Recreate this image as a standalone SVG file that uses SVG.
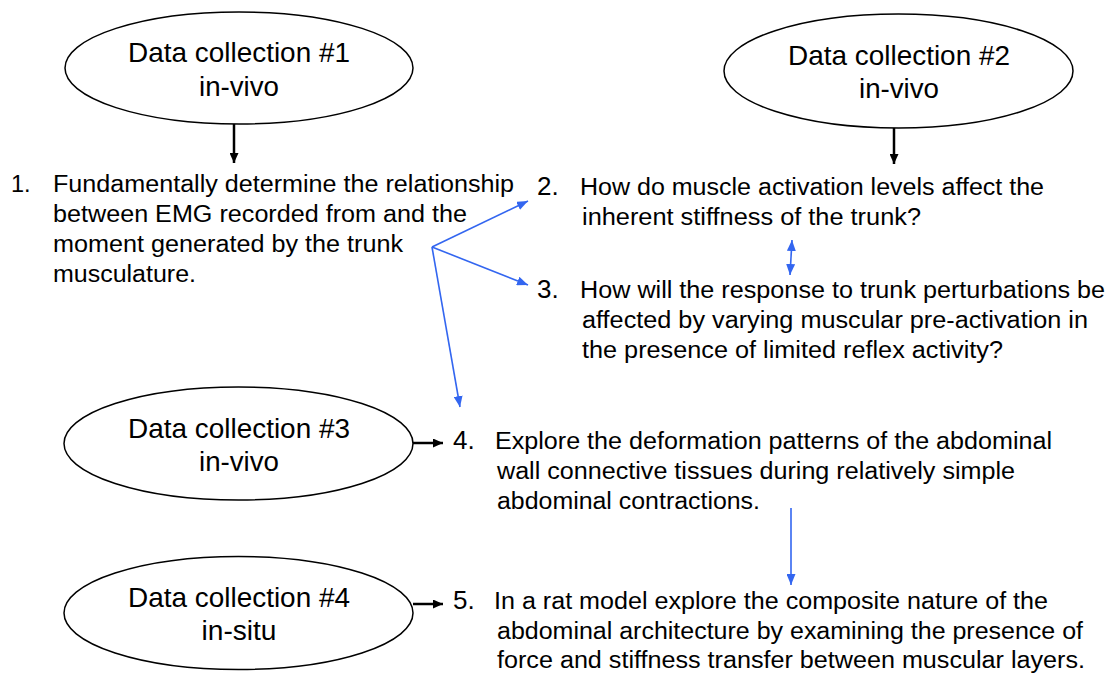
<svg xmlns="http://www.w3.org/2000/svg" width="1107" height="675" viewBox="0 0 1107 675">
  <style>
    .bg { fill: #ffffff; }
    .ell { fill: #ffffff; stroke: #000000; stroke-width: 1.5; }
    .lbl { font-family: "Liberation Sans", Arial, sans-serif; font-size: 27.5px; fill: #000000; text-anchor: middle; }
    .txt { font-family: "Liberation Sans", Arial, sans-serif; font-size: 23.5px; fill: #000000; }
    .num { font-family: "Liberation Sans", Arial, sans-serif; font-size: 26px; fill: #000000; }
    .blk { stroke: #000000; stroke-width: 2.5; fill: none; marker-end: url(#ahBlack); }
    .blu { stroke: #3366f0; stroke-width: 1.6; fill: none; marker-end: url(#ahBlue); }
  </style>
  <defs>
    <marker id="ahBlack" markerUnits="userSpaceOnUse" markerWidth="10" markerHeight="9" refX="10" refY="4.5" orient="auto">
      <path d="M0,0 L10,4.5 L0,9 z" fill="#000000"/>
    </marker>
    <marker id="ahBlue" markerUnits="userSpaceOnUse" markerWidth="11" markerHeight="9" refX="11" refY="4.5" orient="auto-start-reverse">
      <path d="M0,0 L11,4.5 L0,9 z" fill="#3366f0"/>
    </marker>
  </defs>
  <rect class="bg" x="0" y="0" width="1107" height="675"/>

  <g id="dc1">
    <ellipse class="ell" cx="239" cy="68" rx="174" ry="56"/>
    <text class="lbl" x="239" y="62" textLength="222" lengthAdjust="spacingAndGlyphs">Data collection #1</text>
    <text class="lbl" x="239" y="96" textLength="80" lengthAdjust="spacingAndGlyphs">in-vivo</text>
  </g>
  <g id="dc2">
    <ellipse class="ell" cx="898.5" cy="71" rx="174.5" ry="57"/>
    <text class="lbl" x="899" y="65" textLength="222" lengthAdjust="spacingAndGlyphs">Data collection #2</text>
    <text class="lbl" x="899" y="98" textLength="80" lengthAdjust="spacingAndGlyphs">in-vivo</text>
  </g>
  <g id="dc3">
    <ellipse class="ell" cx="238.5" cy="443.5" rx="174.5" ry="56.5"/>
    <text class="lbl" x="239" y="438" textLength="222" lengthAdjust="spacingAndGlyphs">Data collection #3</text>
    <text class="lbl" x="239" y="471" textLength="80" lengthAdjust="spacingAndGlyphs">in-vivo</text>
  </g>
  <g id="dc4">
    <ellipse class="ell" cx="238.5" cy="613" rx="174.5" ry="56.5"/>
    <text class="lbl" x="239" y="607" textLength="222" lengthAdjust="spacingAndGlyphs">Data collection #4</text>
    <text class="lbl" x="239" y="640" textLength="75" lengthAdjust="spacingAndGlyphs">in-situ</text>
  </g>

  <g id="q1">
    <text class="txt" x="11" y="192">1.</text>
    <text class="txt" x="53" y="192" textLength="461" lengthAdjust="spacingAndGlyphs">Fundamentally determine the relationship</text>
    <text class="txt" x="53" y="222" textLength="414" lengthAdjust="spacingAndGlyphs">between EMG recorded from and the</text>
    <text class="txt" x="53" y="252" textLength="350" lengthAdjust="spacingAndGlyphs">moment generated by the trunk</text>
    <text class="txt" x="53" y="282" textLength="143" lengthAdjust="spacingAndGlyphs">musculature.</text>
  </g>
  <g id="q2">
    <text class="num" x="537" y="195">2.</text>
    <text class="txt" x="580" y="195" textLength="464" lengthAdjust="spacingAndGlyphs">How do muscle activation levels affect the</text>
    <text class="txt" x="582" y="225" textLength="339" lengthAdjust="spacingAndGlyphs">inherent stiffness of the trunk?</text>
  </g>
  <g id="q3">
    <text class="num" x="537" y="298">3.</text>
    <text class="txt" x="580" y="298" textLength="525" lengthAdjust="spacingAndGlyphs">How will the response to trunk perturbations be</text>
    <text class="txt" x="582" y="328" textLength="506" lengthAdjust="spacingAndGlyphs">affected by varying muscular pre-activation in</text>
    <text class="txt" x="582" y="358" textLength="421" lengthAdjust="spacingAndGlyphs">the presence of limited reflex activity?</text>
  </g>
  <g id="q4">
    <text class="num" x="453" y="449">4.</text>
    <text class="txt" x="495" y="449" textLength="557" lengthAdjust="spacingAndGlyphs">Explore the deformation patterns of the abdominal</text>
    <text class="txt" x="497" y="479" textLength="518" lengthAdjust="spacingAndGlyphs">wall connective tissues during relatively simple</text>
    <text class="txt" x="497" y="509" textLength="263" lengthAdjust="spacingAndGlyphs">abdominal contractions.</text>
  </g>
  <g id="q5">
    <text class="num" x="453" y="609">5.</text>
    <text class="txt" x="494" y="609" textLength="554" lengthAdjust="spacingAndGlyphs">In a rat model explore the composite nature of the</text>
    <text class="txt" x="497" y="639" textLength="586" lengthAdjust="spacingAndGlyphs">abdominal architecture by examining the presence of</text>
    <text class="txt" x="497" y="668" textLength="588" lengthAdjust="spacingAndGlyphs">force and stiffness transfer between muscular layers.</text>
  </g>

  <g id="connectors">
    <line class="blk" x1="234" y1="124" x2="234" y2="163"/>
    <line class="blk" x1="894" y1="128" x2="894" y2="164"/>
    <line class="blk" x1="413" y1="443" x2="443" y2="443"/>
    <line class="blk" x1="413" y1="604" x2="443" y2="604"/>
    <line class="blu" x1="432" y1="247" x2="528" y2="201"/>
    <line class="blu" x1="432" y1="247" x2="528" y2="285"/>
    <line class="blu" x1="432" y1="247" x2="460" y2="407"/>
    <line class="blu" x1="792" y1="240" x2="790" y2="275" style="marker-start: url(#ahBlue);"/>
    <line class="blu" x1="791" y1="508" x2="791" y2="585"/>
  </g>
</svg>
